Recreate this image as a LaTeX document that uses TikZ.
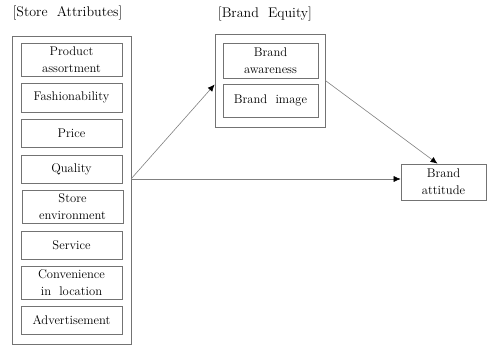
\documentclass[tikz,border=0pt]{standalone}
\usepackage{tikz}
\usetikzlibrary{arrows.meta}

\begin{document}
\begin{tikzpicture}[x=1pt,y=-1pt,
		box/.style={draw=black!55,line width=0.7pt,inner sep=0pt,align=center,font=\fontsize{12.6}{17}\selectfont},
		attr/.style={box,minimum width=101pt},
		conn/.style={draw=black!50,line width=0.6pt,-{Latex[black,length=7pt,width=6pt]}}]
		\useasboundingbox (0,0) rectangle (487,345);
		\node[font=\fontsize{14}{16}\selectfont] (ttlstore) at (67.5,13) {[Store\ \ Attributes]};
		\node[font=\fontsize{14}{16}\selectfont] (ttlequity) at (265,14) {[Brand\ \ Equity]};
		% store attributes
		\node[box,minimum width=119pt,minimum height=308pt] (store) at (71.5,190) {};
		\node[attr,minimum height=33pt] (prod) at (71.5,59.5) {Product\\assortment};
		\node[attr,minimum height=29pt] (fash) at (71.5,97.5) {Fashionability};
		\node[attr,minimum height=28pt] (price) at (71.5,133) {Price};
		\node[attr,minimum height=28pt] (qual) at (71.5,169) {Quality};
		\node[attr,minimum height=33pt] (env) at (72.5,206.5) {Store\\environment};
		\node[attr,minimum height=28pt] (serv) at (71.5,245) {Service};
		\node[attr,minimum height=33pt] (conv) at (71.5,282.5) {Convenience\\in\ \ location};
		\node[attr,minimum height=28pt] (adv) at (71.5,320) {Advertisement};
		% brand equity
		\node[box,minimum width=110pt,minimum height=93pt] (equity) at (270,80.5) {};
		\node[box,minimum width=95pt,minimum height=35pt] (aware) at (270.5,60.5) {Brand\\awareness};
		\node[box,minimum width=95pt,minimum height=33pt] (image) at (270.5,100.5) {Brand\ \ image};
		\node[box,minimum width=85pt,minimum height=36pt] (attitude) at (443.5,182) {Brand\\attitude};
		% paths
		\coordinate (out) at (131,179);
		\draw[conn] (out) -- ([yshift=-4pt]equity.west);
		\draw[conn] (out) -- (out -| attitude.west);
		\draw[conn] (equity.east) -- ([xshift=-6pt]attitude.north);
	\end{tikzpicture}
\end{document}
